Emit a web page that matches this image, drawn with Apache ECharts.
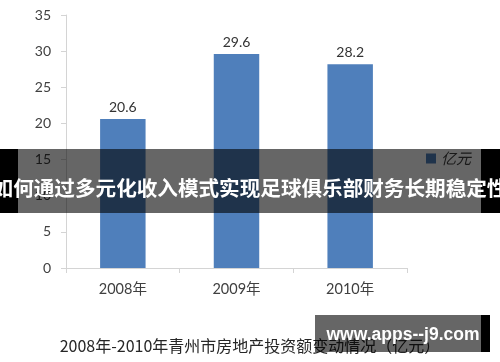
<!DOCTYPE html>
<html>
<head>
<meta charset="utf-8">
<script src="https://cdn.jsdelivr.net/npm/echarts@6/dist/echarts.min.js"></script>
<style>
html,body{margin:0;padding:0;background:#fff;}
#c{width:500px;height:362px;}
</style>
</head>
<body>
<div id="c"></div>
<script>
var categories = ['2008年', '2009年', '2010年'];
var values = [20.6, 29.6, 28.2];
var seriesName = '亿元';
var yTicks = [0, 5, 10, 15, 20, 25, 30, 35];
var caption = '2008年-2010年青州市房地产投资额变动情况（亿元）';
var bannerText = '如何通过多元化收入模式实现足球俱乐部财务长期稳定性';
var watermarkText = 'www.apps--j9.com';

var chart = echarts.init(document.getElementById('c'));
var numFont = 'Lato, "Noto Sans CJK SC", sans-serif';
chart.setOption({
  animation: false,
  backgroundColor: '#ffffff',
  grid: {left: 66, right: 93, top: 15, bottom: 94},
  legend: {
    data: [seriesName], left: 421, top: 146, itemWidth: 10, itemHeight: 10, itemGap: 4,
    textStyle: {fontSize: 15, color: '#404040', fontStyle: 'italic', fontFamily: '"Noto Sans CJK SC", sans-serif'},
    icon: 'rect'
  },
  xAxis: {
    type: 'category', data: categories,
    axisLine: {lineStyle: {color: '#d4d4d4'}},
    axisTick: {show: true, length: 5, lineStyle: {color: '#d4d4d4'}},
    axisLabel: {fontSize: 14.5, color: '#404040', margin: 14, fontFamily: numFont}
  },
  yAxis: {
    type: 'value', min: yTicks[0], max: yTicks[yTicks.length - 1], interval: 5,
    axisLine: {show: true, lineStyle: {color: '#d4d4d4'}},
    axisTick: {show: true, length: 5, lineStyle: {color: '#d4d4d4'}},
    splitLine: {show: false},
    axisLabel: {fontSize: 14, color: '#404040', margin: 15, fontFamily: numFont}
  },
  series: [{
    name: seriesName, type: 'bar', data: values, barCategoryGap: '60%',
    itemStyle: {color: '#4f7fbb'},
    label: {show: true, position: 'top', distance: 5, fontSize: 14, color: '#333', fontFamily: numFont}
  }],
  graphic: [
    {type: 'text', left: 'center', top: 338, z: 50,
     style: {text: caption, fontSize: 16, fill: '#262626', fontFamily: '"Noto Sans CJK SC", sans-serif'}},
    {type: 'rect', shape: {x: 0, y: 149, width: 500, height: 64}, style: {fill: 'rgba(0,0,0,0.6)'}, z: 100},
    {type: 'rect', shape: {x: 0, y: 149, width: 18, height: 64}, style: {fill: '#000'}, z: 101},
    {type: 'rect', shape: {x: 481, y: 149, width: 19, height: 64}, style: {fill: '#000'}, z: 101},
    {type: 'text', x: 250, y: 188, z: 102,
     style: {text: bannerText, fontSize: 20.6, fontWeight: 'bold', fill: '#fff', align: 'center', verticalAlign: 'middle', fontFamily: '"Noto Sans CJK SC", sans-serif'}},
    {type: 'rect', shape: {x: 315, y: 315, width: 175, height: 37}, style: {fill: 'rgba(0,0,0,0.6)'}, z: 100},
    {type: 'rect', shape: {x: 481, y: 315, width: 9, height: 37}, style: {fill: '#000'}, z: 101},
    {type: 'text', x: 403, y: 335, z: 102,
     style: {text: watermarkText, fontSize: 17.5, fontWeight: 'bold', fill: '#fff', align: 'center', verticalAlign: 'middle', fontFamily: '"Liberation Sans", Arial, sans-serif'}}
  ]
});
</script>
</body>
</html>
